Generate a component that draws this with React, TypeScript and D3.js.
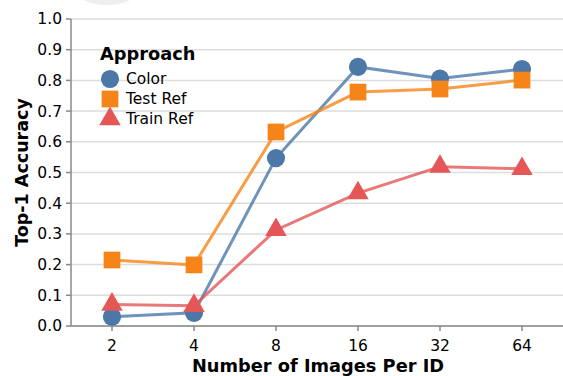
import React from "react";
import * as d3 from "d3";

const categories = ["2", "4", "8", "16", "32", "64"];
const seriesNames = ["Color", "Test Ref", "Train Ref"];
const colorValues = [0.03, 0.043, 0.547, 0.844, 0.806, 0.837];
const testRefValues = [0.215, 0.199, 0.632, 0.762, 0.772, 0.801];
const trainRefValues = [0.07, 0.066, 0.313, 0.433, 0.519, 0.512];
const yTicks = [0, 0.1, 0.2, 0.3, 0.4, 0.5, 0.6, 0.7, 0.8, 0.9, 1.0];
const colors = ["#4c78a8", "#f58518", "#e45756"];
const shapes = ["circle", "square", "triangle"];

const W = 563, H = 376;
const left = 71, right = 563, top = 19, bottom = 326;
const FONT = "DejaVu Sans, sans-serif";

function symbolPath(shape: string, size: number) {
  const t = shape === "circle" ? d3.symbolCircle : shape === "square" ? d3.symbolSquare : d3.symbolTriangle;
  return d3.symbol(t, size)()!;
}

export default function App() {
  const x = d3.scalePoint<string>().domain(categories).range([left, right]).padding(0.5);
  const y = d3.scaleLinear().domain([0, 1]).range([bottom, top]);
  const series = [colorValues, testRefValues, trainRefValues];
  const line = d3.line<number>().x((_, i) => x(categories[i])!).y((d) => y(d));
  const sizes = [260, 280, 200];

  return (
    <svg width={W} height={H} style={{ position: "absolute", left: 0, top: 0 }} fontFamily={FONT}>
      <rect width={W} height={H} fill="#fff" />
      <ellipse cx={107} cy={-12} rx={33} ry={17} fill="#eeeeee" />
      {yTicks.map((t) => (
        <g key={t}>
          <line x1={left} x2={right} y1={y(t)} y2={y(t)} stroke="#dddddd" strokeWidth={1.5} />
          <line x1={left - 5} x2={left} y1={y(t)} y2={y(t)} stroke="#888" strokeWidth={1.5} />
          <text x={left - 9} y={y(t)} dy="0.35em" textAnchor="end" fontSize={15.5} fill="#000">
            {t.toFixed(1)}
          </text>
        </g>
      ))}
      <line x1={left} x2={left} y1={top} y2={bottom} stroke="#888" strokeWidth={1.5} />
      <line x1={left} x2={right} y1={bottom} y2={bottom} stroke="#888" strokeWidth={1.5} />
      {categories.map((c) => (
        <g key={c}>
          <line x1={x(c)!} x2={x(c)!} y1={bottom} y2={bottom + 5} stroke="#888" strokeWidth={1.5} />
          <text x={x(c)!} y={bottom + 25} textAnchor="middle" fontSize={15.5} fill="#000">
            {c}
          </text>
        </g>
      ))}
      {series.map((s, si) => (
        <path key={si} d={line(s)!} fill="none" stroke={colors[si]} strokeWidth={3} strokeOpacity={0.8} />
      ))}
      {series.map((s, si) =>
        s.map((v, i) => (
          <path
            key={si + "-" + i}
            d={symbolPath(shapes[si], sizes[si])}
            transform={`translate(${x(categories[i])},${y(v)})`}
            fill={colors[si]}
          />
        ))
      )}
      <text x={318} y={372} textAnchor="middle" fontSize={17.8} fontWeight="bold">
        Number of Images Per ID
      </text>
      <text transform={`translate(28,${(top + bottom) / 2}) rotate(-90)`} textAnchor="middle" fontSize={17.5} fontWeight="bold">
        Top-1 Accuracy
      </text>
      <g>
        <text x={100} y={60} fontSize={17.8} fontWeight="bold">Approach</text>
        {seriesNames.map((n, i) => (
          <g key={n} transform={`translate(110,${79 + i * 20})`}>
            <path d={symbolPath(shapes[i], sizes[i])} fill={colors[i]} />
            <text x={16} dy="0.35em" fontSize={15.5}>{n}</text>
          </g>
        ))}
      </g>
    </svg>
  );
}
